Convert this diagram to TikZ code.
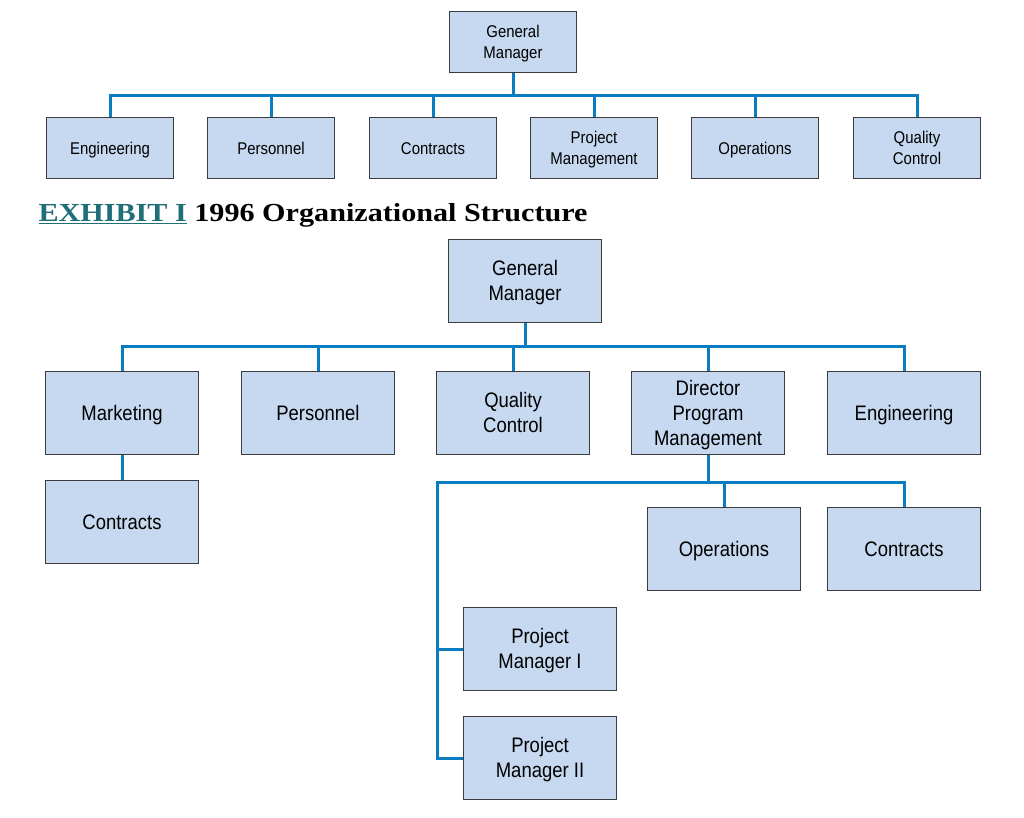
\documentclass[tikz,border=0pt]{standalone}
\usepackage{fontspec}
\usepackage{array}
\setmainfont[FakeStretch=0.88]{Liberation Sans}
\newfontfamily\titlefont[FakeStretch=1.16]{Liberation Serif}
\usetikzlibrary{positioning,calc}
\definecolor{boxFill}{HTML}{C6D9F0}
\definecolor{boxLine}{HTML}{3C3C3C}
\definecolor{linkBlue}{HTML}{0A7DC2}
\definecolor{exColor}{HTML}{1F6E78}
% rows with the caps centred in each row
\newcommand{\rowStrut}{\vrule width 0pt height 0.95em depth 0.24em}
\newcommand{\cell}[1]{\setlength{\extrarowheight}{0pt}\renewcommand{\arraystretch}{0}%
	\begin{tabular}{@{}>{\rowStrut}c@{}}#1\end{tabular}}
\tikzset{
	unit/.style={draw=boxLine, fill=boxFill, line width=1.4pt, inner sep=0pt},
	small unit/.style={unit, minimum width=127pt, minimum height=61pt, font=\fontsize{17}{20}\selectfont},
	big unit/.style={unit, minimum width=153pt, minimum height=83pt, font=\fontsize{21}{25}\selectfont},
	link/.style={draw=linkBlue, line width=3pt}
}

\begin{document}
\begin{tikzpicture}[x=1pt, y=-1pt]
	\useasboundingbox (0,0) rectangle (1024,818);

	% 1996 chart
	\node[small unit] (gmA) at (513, 42) {\cell{General\\Manager}};
	\node[small unit] (engA) at (110, 148) {\cell{Engineering}};
	\node[small unit] (perA) at (271, 148) {\cell{Personnel}};
	\node[small unit] (conA) at (433, 148) {\cell{Contracts}};
	\node[small unit] (pmA) at (594, 148) {\cell{Project\\Management}};
	\node[small unit] (opsA) at (755, 148) {\cell{Operations}};
	\node[small unit] (qcA) at (917, 148) {\cell{Quality\\Control}};
	\coordinate (busA) at (513, 96);
	\foreach \n in {engA,perA,conA,pmA,opsA,qcA}
		\draw[link] (gmA.south) -- (busA) -| (\n.north);

	\node[anchor=base west, font=\titlefont\bfseries\fontsize{26}{30}\selectfont] (title) at (35, 222)
		{\textcolor{exColor}{\underline{EXHIBIT I}} 1996 Organizational Structure};

	% later chart
	\node[big unit] (gmB) at (525, 281) {\cell{General\\Manager}};
	\node[big unit] (mkt) at (122, 413) {\cell{Marketing}};
	\node[big unit] (perB) at (318, 413) {\cell{Personnel}};
	\node[big unit] (qcB) at (513, 413) {\cell{Quality\\Control}};
	\node[big unit] (dpm) at (708, 413) {\cell{Director\\Program\\Management}};
	\node[big unit] (engB) at (904, 413) {\cell{Engineering}};
	\coordinate (busB) at (525, 346);
	\foreach \n in {mkt,perB,qcB,dpm,engB}
		\draw[link] (gmB.south) -- (busB) -| (\n.north);

	\node[big unit] (conB) at (122, 522) {\cell{Contracts}};
	\draw[link] (mkt.south) -- (conB.north);

	\node[big unit] (opsB) at (724, 549) {\cell{Operations}};
	\node[big unit] (conC) at (904, 549) {\cell{Contracts}};
	\node[big unit] (pm1) at (540, 649) {\cell{Project\\Manager I}};
	\node[big unit] (pm2) at (540, 758) {\cell{Project\\Manager II}};
	\coordinate (busC) at (708, 482);
	\coordinate (spine) at (437, 482);
	\foreach \n in {opsB,conC}
		\draw[link] (dpm.south) -- (busC) -| (\n.north);
	\draw[link] (busC) -- (spine) |- (pm2.west);
	\draw[link] (spine |- pm1.west) -- (pm1.west);
\end{tikzpicture}
\end{document}
